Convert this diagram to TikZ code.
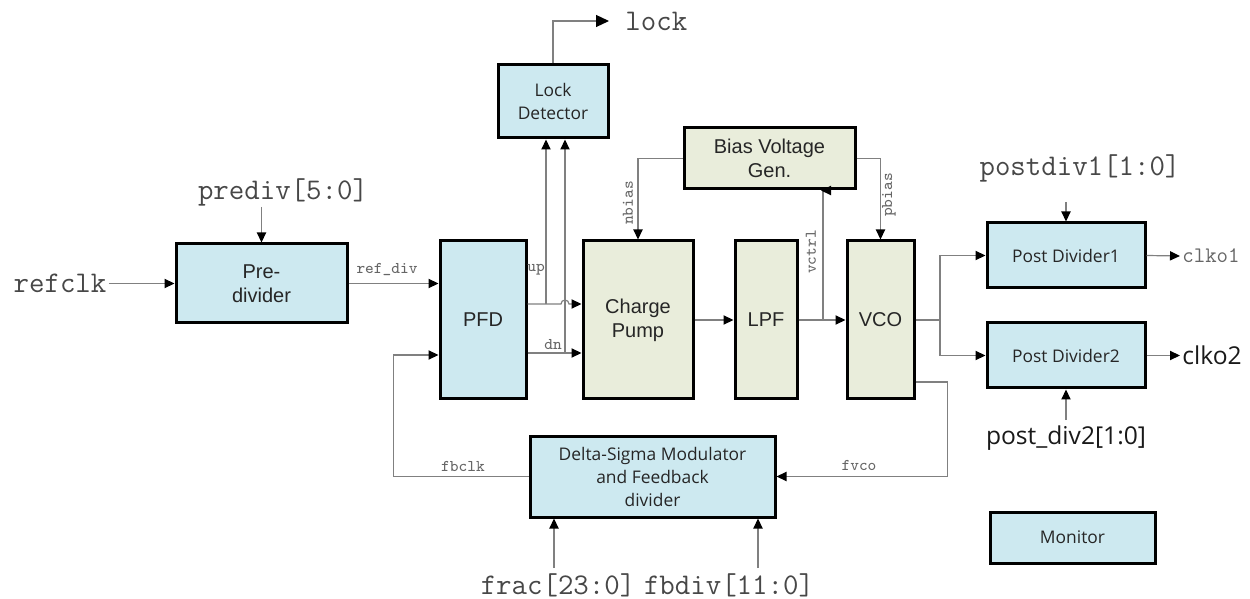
\documentclass[tikz,border=0pt]{standalone}
\usepackage{fontspec}
\setmainfont{Liberation Sans}
\newfontfamily\uifont{Open Sans}
\usetikzlibrary{arrows.meta,calc}
\definecolor{boxblue}{RGB}{205,233,240}
\definecolor{boxgreen}{RGB}{233,237,219}
\definecolor{wire}{RGB}{128,128,128}
\tikzset{
  blk/.style={draw=black, line width=1.5pt, inner sep=1pt, align=center, text=black!85,
    font=\fontsize{10}{12}\selectfont},
  blu/.style={blk, fill=boxblue},
  grn/.style={blk, fill=boxgreen},
  uiblk/.style={blu, font=\uifont\fontsize{8.7}{11.5}\selectfont},
  wireln/.style={draw=wire, line width=0.6pt},
  conn/.style={wireln, -{Triangle[color=black,length=5pt,width=4.6pt]}},
  sig/.style={font=\ttfamily\fontsize{15}{17}\selectfont, text=black!72, inner sep=1pt},
  tag/.style={font=\ttfamily\fontsize{8.2}{9}\selectfont, text=black!60, inner sep=1pt},
  uisig/.style={font=\uifont\fontsize{12.3}{14}\selectfont, text=black!90, inner sep=1pt},
}

\begin{document}
\begin{tikzpicture}[x=0.5pt,y=-0.5pt]
  \useasboundingbox (0,0) rectangle (1250,599);

  % blocks
  \node[blu, minimum width=85.5pt, minimum height=39.5pt] (prediv) at (261.5,283.5) {Pre-\\divider};
  \node[blu, minimum width=43pt, minimum height=79pt] (pfd) at (483,320) {PFD};
  \node[grn, minimum width=55pt, minimum height=79pt] (cp) at (638,320) {Charge\\Pump};
  \node[grn, minimum width=31pt, minimum height=79pt] (lpf) at (766,320) {LPF};
  \node[grn, minimum width=33.5pt, minimum height=79pt] (vco) at (880.5,320) {VCO};
  \node[grn, minimum width=85.5pt, minimum height=30.5pt] (bias) at (769.5,158.5) {Bias Voltage\\Gen.};
  \node[uiblk, minimum width=55pt, minimum height=36.5pt] (lockdet) at (553,101.5) {Lock\\Detector};
  \node[uiblk, minimum width=79pt, minimum height=32.5pt] (pd1) at (1066,255.5) {Post Divider1};
  \node[uiblk, minimum width=79pt, minimum height=32.5pt] (pd2) at (1066,355.5) {Post Divider2};
  \node[uiblk, minimum width=122.5pt, minimum height=40.5pt] (dsm) at (652.5,476.5) {Delta-Sigma Modulator\\and Feedback\\divider};
  \node[uiblk, minimum width=82.5pt, minimum height=25.5pt] (monitor) at (1072.5,537.5) {Monitor};

  % pins
  \node[sig] (refclk) at (60,283.5) {refclk};
  \node[sig] (prediv lbl) at (283,192) {prediv[5:0]};
  \coordinate (prediv in) at (261.5,207);
  \node[sig, anchor=west, inner xsep=8pt] (lock) at (609,21) {lock};
  \node[sig] (pd1 lbl) at (1080,168) {postdiv1[1:0]};
  \coordinate (pd1 in) at (1066,202);
  \node[uisig] (pd2 lbl) at (1066,438) {post\_div2[1:0]};
  \coordinate (pd2 in) at (1066,420);
  \node[sig] (frac) at (558,585) {frac[23:0]};
  \node[sig] (fbdiv) at (729,585) {fbdiv[11:0]};
  \coordinate (frac in) at (554,568);
  \coordinate (fbdiv in) at (758,568);
  \node[sig, font=\ttfamily\fontsize{11.1}{12}\selectfont, text=black!60, anchor=west] (clko1) at (1180,256) {clko1};
  \node[uisig, anchor=west] (clko2) at (1180,355.5) {clko2};

  % net names
  \node[tag] (refdiv) at (387,270) {ref\_div};
  \node[tag] (up) at (536,270) {up};
  \node[tag] (dn) at (553,345) {dn};
  \node[tag] (fbclk) at (463,466) {fbclk};
  \node[tag] (fvco) at (859,465) {fvco};
  \node[tag, rotate=90] (nbias) at (628,203) {nbias};
  \node[tag, rotate=90] (pbias) at (889,195) {pbias};
  \node[tag, rotate=90] (vctrl) at (811,252) {vctrl};

  % input side
  \draw[conn] (refclk.east) -- (prediv.west);
  \draw[conn] (prediv in) -- (prediv.north);
  \draw[conn] (prediv.east) -- (prediv.east -| pfd.west);
  \draw[conn] (dsm.west) -- ++(-135,0) |- ([yshift=-17.5pt]pfd.west);

  % up / dn
  \coordinate (up tap) at (546,304);
  \coordinate (dn tap) at (565,353);
  \draw[conn] ([yshift=8pt]pfd.east) -- (561,304) arc[start angle=180, end angle=0, radius=2pt]
    -- ([yshift=8pt]cp.west);
  \draw[conn] ([yshift=-16.5pt]pfd.east) -- ([yshift=-16.5pt]cp.west);
  \draw[conn] (up tap) -- (up tap |- lockdet.south);
  \draw[conn] (dn tap) -- (dn tap |- lockdet.south);
  \draw[conn, -{Triangle[color=black,length=6.5pt,width=6pt]}] (lockdet.north) |- (lock.west);

  % loop
  \draw[conn] (bias.west) -| (cp.north);
  \draw[conn] (bias.east) -| (vco.north);
  \draw[conn] (cp.east) -- (lpf.west);
  \draw[conn] (lpf.east) -- (vco.west);
  \coordinate (vctrl tap) at (823,320);
  \draw[conn] (vctrl tap) |- ([xshift=-1pt]vctrl tap |- bias.south);
  \draw[conn] ([yshift=-31pt]vco.east) -- ++(32,0) |- (dsm.east);
  \draw[conn] (frac in) -- (frac in |- dsm.south);
  \draw[conn] (fbdiv in) -- (fbdiv in |- dsm.south);

  % outputs
  \coordinate (split) at (940,320);
  \draw[wireln] (vco.east) -- (split);
  \draw[conn] (split) |- (pd1.west);
  \draw[conn] (split) |- (pd2.west);
  \draw[conn] (pd1 in) -- (pd1.north);
  \draw[conn] (pd2 in) -- (pd2.south);
  \draw[conn] (pd1.east) -- (clko1.west);
  \draw[conn] (pd2.east) -- (clko2.west);
\end{tikzpicture}
\end{document}
